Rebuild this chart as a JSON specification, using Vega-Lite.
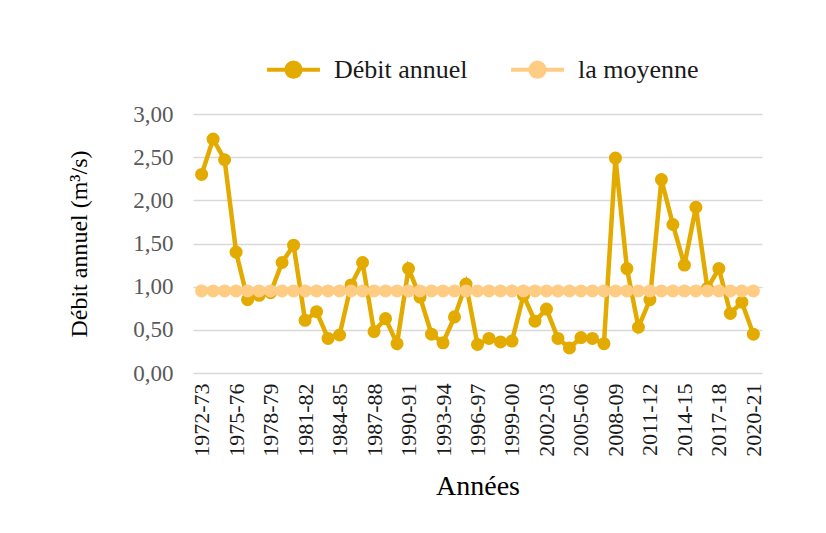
{
  "$schema": "https://vega.github.io/schema/vega-lite/v6.json",
  "width": 569,
  "height": 259,
  "autosize": {"type": "none"},
  "padding": {"left": 193, "top": 114, "right": 64, "bottom": 160},
  "background": "white",
  "config": {"view": {"stroke": null}},
  "data": {"values": [
    {"annee": "1972-73", "Débit annuel": 2.30, "la moyenne": 0.95},
    {"annee": "1973-74", "Débit annuel": 2.71, "la moyenne": 0.95},
    {"annee": "1974-75", "Débit annuel": 2.47, "la moyenne": 0.95},
    {"annee": "1975-76", "Débit annuel": 1.40, "la moyenne": 0.95},
    {"annee": "1976-77", "Débit annuel": 0.85, "la moyenne": 0.95},
    {"annee": "1977-78", "Débit annuel": 0.90, "la moyenne": 0.95},
    {"annee": "1978-79", "Débit annuel": 0.93, "la moyenne": 0.95},
    {"annee": "1979-80", "Débit annuel": 1.28, "la moyenne": 0.95},
    {"annee": "1980-81", "Débit annuel": 1.48, "la moyenne": 0.95},
    {"annee": "1981-82", "Débit annuel": 0.61, "la moyenne": 0.95},
    {"annee": "1982-83", "Débit annuel": 0.71, "la moyenne": 0.95},
    {"annee": "1983-84", "Débit annuel": 0.40, "la moyenne": 0.95},
    {"annee": "1984-85", "Débit annuel": 0.44, "la moyenne": 0.95},
    {"annee": "1985-86", "Débit annuel": 1.02, "la moyenne": 0.95},
    {"annee": "1986-87", "Débit annuel": 1.28, "la moyenne": 0.95},
    {"annee": "1987-88", "Débit annuel": 0.48, "la moyenne": 0.95},
    {"annee": "1988-89", "Débit annuel": 0.63, "la moyenne": 0.95},
    {"annee": "1989-90", "Débit annuel": 0.34, "la moyenne": 0.95},
    {"annee": "1990-91", "Débit annuel": 1.21, "la moyenne": 0.95},
    {"annee": "1991-92", "Débit annuel": 0.88, "la moyenne": 0.95},
    {"annee": "1992-93", "Débit annuel": 0.45, "la moyenne": 0.95},
    {"annee": "1993-94", "Débit annuel": 0.35, "la moyenne": 0.95},
    {"annee": "1994-95", "Débit annuel": 0.65, "la moyenne": 0.95},
    {"annee": "1995-96", "Débit annuel": 1.03, "la moyenne": 0.95},
    {"annee": "1996-97", "Débit annuel": 0.33, "la moyenne": 0.95},
    {"annee": "1997-98", "Débit annuel": 0.40, "la moyenne": 0.95},
    {"annee": "1998-99", "Débit annuel": 0.36, "la moyenne": 0.95},
    {"annee": "1999-00", "Débit annuel": 0.37, "la moyenne": 0.95},
    {"annee": "2000-01", "Débit annuel": 0.90, "la moyenne": 0.95},
    {"annee": "2001-02", "Débit annuel": 0.60, "la moyenne": 0.95},
    {"annee": "2002-03", "Débit annuel": 0.74, "la moyenne": 0.95},
    {"annee": "2003-04", "Débit annuel": 0.40, "la moyenne": 0.95},
    {"annee": "2004-05", "Débit annuel": 0.29, "la moyenne": 0.95},
    {"annee": "2005-06", "Débit annuel": 0.41, "la moyenne": 0.95},
    {"annee": "2006-07", "Débit annuel": 0.40, "la moyenne": 0.95},
    {"annee": "2007-08", "Débit annuel": 0.34, "la moyenne": 0.95},
    {"annee": "2008-09", "Débit annuel": 2.49, "la moyenne": 0.95},
    {"annee": "2009-10", "Débit annuel": 1.21, "la moyenne": 0.95},
    {"annee": "2010-11", "Débit annuel": 0.53, "la moyenne": 0.95},
    {"annee": "2011-12", "Débit annuel": 0.85, "la moyenne": 0.95},
    {"annee": "2012-13", "Débit annuel": 2.24, "la moyenne": 0.95},
    {"annee": "2013-14", "Débit annuel": 1.72, "la moyenne": 0.95},
    {"annee": "2014-15", "Débit annuel": 1.25, "la moyenne": 0.95},
    {"annee": "2015-16", "Débit annuel": 1.92, "la moyenne": 0.95},
    {"annee": "2016-17", "Débit annuel": 0.98, "la moyenne": 0.95},
    {"annee": "2017-18", "Débit annuel": 1.21, "la moyenne": 0.95},
    {"annee": "2018-19", "Débit annuel": 0.69, "la moyenne": 0.95},
    {"annee": "2019-20", "Débit annuel": 0.82, "la moyenne": 0.95},
    {"annee": "2020-21", "Débit annuel": 0.45, "la moyenne": 0.95}
  ]},
  "transform": [{"fold": ["Débit annuel", "la moyenne"], "as": ["serie", "valeur"]}],
  "encoding": {
    "x": {
      "field": "annee", "type": "ordinal", "sort": null,
      "scale": {"type": "point", "padding": 0.75},
      "axis": {
        "values": ["1972-73","1975-76","1978-79","1981-82","1984-85","1987-88","1990-91","1993-94","1996-97","1999-00","2002-03","2005-06","2008-09","2011-12","2014-15","2017-18","2020-21"],
        "labelAngle": 270, "labelFont": "Liberation Serif", "labelFontSize": 22, "labelColor": "#1a1a1a",
        "labelPadding": 10, "ticks": false, "domain": false, "grid": false,
        "title": "Années", "titleFont": "Liberation Serif", "titleFontSize": 28, "titleFontWeight": "normal",
        "titleColor": "#000000", "titlePadding": 16
      }
    },
    "y": {
      "field": "valeur", "type": "quantitative",
      "scale": {"domain": [0, 3], "nice": false},
      "axis": {
        "values": [0, 0.5, 1, 1.5, 2, 2.5, 3],
        "labelExpr": "replace(format(datum.value, '.2f'), '.', ',')",
        "labelFont": "Liberation Serif", "labelFontSize": 23, "labelColor": "#595959", "labelPadding": 20,
        "ticks": false, "domain": false, "gridColor": "#d9d9d9", "gridWidth": 1.3,
        "title": "Débit annuel (m³/s)", "titleFont": "Liberation Serif", "titleFontSize": 24,
        "titleFontWeight": "normal", "titleColor": "#000000", "titlePadding": 41
      }
    },
    "color": {
      "field": "serie", "type": "nominal",
      "scale": {"domain": ["Débit annuel", "la moyenne"], "range": ["#E3AB00", "#FFCC84"]},
      "legend": {
        "orient": "none", "legendX": 72, "legendY": -73, "direction": "horizontal", "title": null,
        "labelFont": "Liberation Serif", "labelFontSize": 26, "labelColor": "#1a1a1a", "labelOffset": 12,
        "columnPadding": 35,
        "symbolType": "M-1,0L1,0M-0.27,0A0.27,0.27 0 1,0 0.27,0A0.27,0.27 0 1,0 -0.27,0Z",
        "symbolSize": 2800, "symbolStrokeWidth": 4,
        "encode": {"symbols": {"update": {
          "fill": {"scale": "color", "field": "value"},
          "stroke": {"scale": "color", "field": "value"},
          "strokeWidth": {"value": 4},
          "opacity": {"value": 1}
        }}}
      }
    }
  },
  "layer": [
    {"transform": [{"filter": "datum.serie === 'Débit annuel'"}], "mark": {"type": "line", "strokeWidth": 4.5}},
    {"transform": [{"filter": "datum.serie === 'Débit annuel'"}], "mark": {"type": "point", "filled": true, "size": 170, "opacity": 1}},
    {"transform": [{"filter": "datum.serie === 'la moyenne'"}], "mark": {"type": "line", "strokeWidth": 5}},
    {"transform": [{"filter": "datum.serie === 'la moyenne'"}], "mark": {"type": "point", "filled": true, "size": 170, "opacity": 1}}
  ]
}
